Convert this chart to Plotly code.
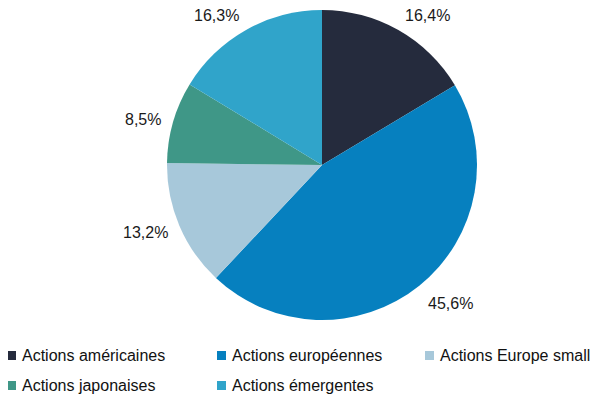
import math
import plotly.graph_objects as go

categories = ["Actions américaines", "Actions européennes", "Actions Europe small",
              "Actions japonaises", "Actions émergentes"]
values = [16.4, 45.6, 13.2, 8.5, 16.3]
colors = ["#252b3d", "#0680bf", "#a7c8da", "#3f9787", "#30a4ca"]
labels_txt = [f"{v:.1f}".replace(".", ",") + "%" for v in values]

# the page body has an 8px margin: draw in a 598x399 figure, shifted by 8px
OFF = 8
W, H = 606 - OFF, 407 - OFF
CX, CY, R = 322 - OFF, 165 - OFF, 155  # pie centre / radius in figure pixels
FONT = "Liberation Sans, Arial"

fig = go.Figure(go.Pie(
    labels=categories, values=values, sort=False, direction="clockwise", rotation=0,
    marker=dict(colors=colors, line=dict(width=0)),
    textinfo="none",
    domain=dict(x=[(CX - R) / W, (CX + R) / W], y=[1 - (CY + R) / H, 1 - (CY - R) / H]),
    showlegend=False, hoverinfo="label+percent",
))

anns = []
shapes = []
# outside percentage labels, positioned from the slice mid-angles
total = sum(values)
cum = 0.0
gap = 10
for v, t in zip(values, labels_txt):
    mid = (cum + v / 2) / total * 2 * math.pi
    cum += v
    ux, uy = math.sin(mid), -math.cos(mid)  # uy: pixel-down is positive
    px = CX + (R + gap) * ux
    py = CY + (R + gap) * uy
    xa = "left" if ux > 0 else "right"
    if abs(uy) < 0.5:
        ya = "middle"
        ysh = -3 if uy > 0 else 0
    elif uy > 0:
        ya = "top"
        ysh = 0
    else:
        ya = "bottom"
        ysh = -5
    anns.append(dict(x=px / W, y=1 - py / H, xref="paper", yref="paper",
                     xanchor=xa, yanchor=ya, yshift=ysh, showarrow=False, text=t,
                     font=dict(family=FONT, size=16, color="#1a1a1a")))

# legend built as swatches + text (3 columns)
col_x = [20 - OFF, 230 - OFF, 438 - OFF]
row_y = [355.5 - OFF, 385.5 - OFF]
for i, (c, col) in enumerate(zip(categories, colors)):
    r, k = divmod(i, 3)
    tx, ty = col_x[k], row_y[r]
    shapes.append(dict(type="rect", xref="paper", yref="paper",
                       x0=(tx - 13) / W, x1=(tx - 4) / W,
                       y0=1 - (ty + 4.5) / H, y1=1 - (ty - 4.5) / H,
                       fillcolor=col, line=dict(width=0)))
    anns.append(dict(
        x=tx / W, y=1 - ty / H, xref="paper", yref="paper",
        xanchor="left", yanchor="middle", showarrow=False,
        text=c, font=dict(family=FONT, size=16, color="#111111"),
    ))

fig.update_layout(
    width=W, height=H, margin=dict(l=0, r=0, t=0, b=0),
    paper_bgcolor="white", plot_bgcolor="white",
    annotations=anns, shapes=shapes,
)
fig.write_html("out.html")
